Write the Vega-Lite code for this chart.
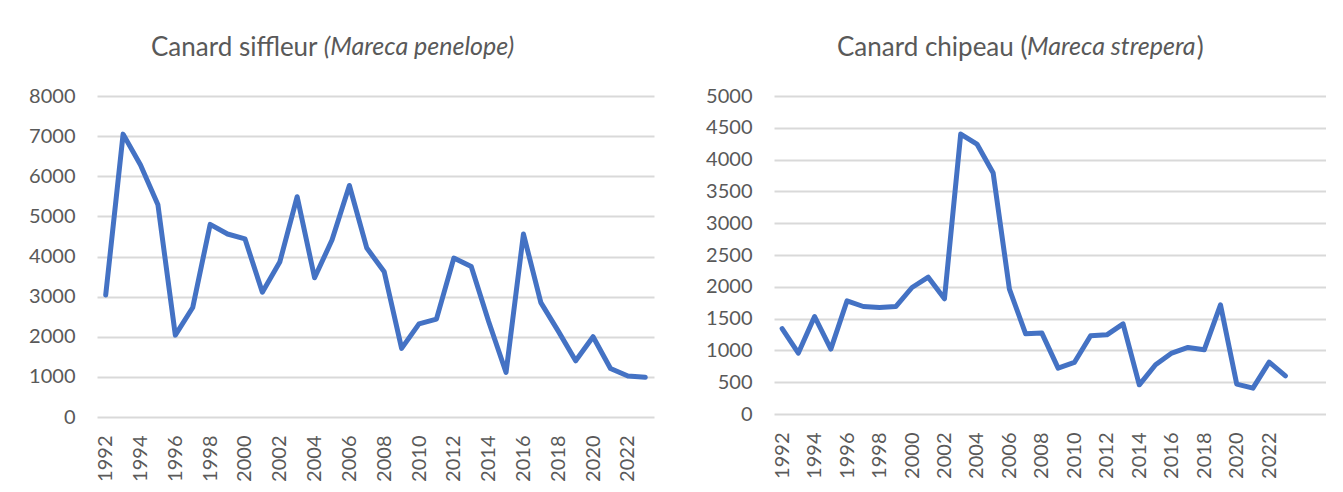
{
  "$schema": "https://vega.github.io/schema/vega-lite/v6.json",
  "background": "white",
  "padding": {"left": 28, "top": 35, "right": 0, "bottom": 0},
  "bounds": "flush",
  "spacing": 120,
  "datasets": {
    "siffleur": [
      {"year": 1992, "count": 3040}, {"year": 1993, "count": 7050}, {"year": 1994, "count": 6280}, {"year": 1995, "count": 5290},
      {"year": 1996, "count": 2040}, {"year": 1997, "count": 2730}, {"year": 1998, "count": 4800}, {"year": 1999, "count": 4560},
      {"year": 2000, "count": 4440}, {"year": 2001, "count": 3110}, {"year": 2002, "count": 3860}, {"year": 2003, "count": 5490},
      {"year": 2004, "count": 3470}, {"year": 2005, "count": 4410}, {"year": 2006, "count": 5770}, {"year": 2007, "count": 4210},
      {"year": 2008, "count": 3620}, {"year": 2009, "count": 1710}, {"year": 2010, "count": 2320}, {"year": 2011, "count": 2440},
      {"year": 2012, "count": 3960}, {"year": 2013, "count": 3750}, {"year": 2014, "count": 2380}, {"year": 2015, "count": 1110},
      {"year": 2016, "count": 4560}, {"year": 2017, "count": 2850}, {"year": 2018, "count": 2140}, {"year": 2019, "count": 1400},
      {"year": 2020, "count": 2000}, {"year": 2021, "count": 1210}, {"year": 2022, "count": 1020}, {"year": 2023, "count": 990}
    ],
    "chipeau": [
      {"year": 1992, "count": 1344}, {"year": 1993, "count": 958}, {"year": 1994, "count": 1533}, {"year": 1995, "count": 1020},
      {"year": 1996, "count": 1780}, {"year": 1997, "count": 1690}, {"year": 1998, "count": 1675}, {"year": 1999, "count": 1690},
      {"year": 2000, "count": 1989}, {"year": 2001, "count": 2152}, {"year": 2002, "count": 1811}, {"year": 2003, "count": 4401},
      {"year": 2004, "count": 4244}, {"year": 2005, "count": 3788}, {"year": 2006, "count": 1964}, {"year": 2007, "count": 1261},
      {"year": 2008, "count": 1272}, {"year": 2009, "count": 722}, {"year": 2010, "count": 810}, {"year": 2011, "count": 1230},
      {"year": 2012, "count": 1245}, {"year": 2013, "count": 1418}, {"year": 2014, "count": 459}, {"year": 2015, "count": 774},
      {"year": 2016, "count": 958}, {"year": 2017, "count": 1046}, {"year": 2018, "count": 1009}, {"year": 2019, "count": 1717},
      {"year": 2020, "count": 470}, {"year": 2021, "count": 407}, {"year": 2022, "count": 816}, {"year": 2023, "count": 600}
    ]
  },
  "config": {
    "view": {"stroke": null},
    "font": "Lato",
    "axis": {
      "labelFont": "Lato",
      "labelFontSize": 20,
      "labelColor": "#595959",
      "domain": false,
      "ticks": false,
      "title": null,
      "gridColor": "#d9d9d9",
      "gridWidth": 2
    },
    "title": {
      "font": "Lato",
      "fontSize": 26,
      "fontWeight": "normal",
      "color": "#595959",
      "subtitleFont": "Lato",
      "subtitleFontSize": 25,
      "subtitleFontStyle": "italic",
      "subtitleColor": "#595959",
      "subtitlePadding": -26,
      "anchor": "start",
      "frame": "group",
      "offset": 25
    }
  },
  "hconcat": [
    {
      "width": 557,
      "height": 321,
      "data": {"name": "siffleur"},
      "title": {
        "text": "Canard siffleur",
        "subtitle": "\u200b\u2003\u2003\u2003\u2003\u2003\u2003\u2003\u2003\u2003\u00a0\u00a0\u00a0(Mareca penelope)",
        "dx": 54
      },
      "mark": {"type": "line", "color": "#4472C4", "strokeWidth": 5, "strokeCap": "round", "strokeJoin": "round"},
      "encoding": {
        "x": {
          "field": "year", "type": "quantitative",
          "scale": {"domain": [1991.5, 2023.5], "nice": false, "zero": false},
          "axis": {"values": [1992, 1994, 1996, 1998, 2000, 2002, 2004, 2006, 2008, 2010, 2012, 2014, 2016, 2018, 2020, 2022], "format": "d", "labelAngle": -90, "grid": false, "labelPadding": 18}
        },
        "y": {
          "field": "count", "type": "quantitative",
          "scale": {"domain": [0, 8000], "nice": false},
          "axis": {"values": [0, 1000, 2000, 3000, 4000, 5000, 6000, 7000, 8000], "format": "d", "labelPadding": 22}
        }
      }
    },
    {
      "width": 552,
      "height": 318,
      "data": {"name": "chipeau"},
      "title": {
        "text": "Canard chipeau (\u2003\u2003\u2003\u2003\u2003\u2003\u2003\u2003\u00a0\u00a0)",
        "subtitle": "\u200b\u2003\u2003\u2003\u2003\u2003\u2003\u2003\u2003\u2003\u2003\u00a0\u00a0\u00a0Mareca strepera",
        "dx": 63
      },
      "mark": {"type": "line", "color": "#4472C4", "strokeWidth": 5, "strokeCap": "round", "strokeJoin": "round"},
      "encoding": {
        "x": {
          "field": "year", "type": "quantitative",
          "scale": {"domain": [1991.5, 2025.5], "nice": false, "zero": false},
          "axis": {"values": [1992, 1994, 1996, 1998, 2000, 2002, 2004, 2006, 2008, 2010, 2012, 2014, 2016, 2018, 2020, 2022], "format": "d", "labelAngle": -90, "grid": false, "labelPadding": 18}
        },
        "y": {
          "field": "count", "type": "quantitative",
          "scale": {"domain": [0, 5000], "nice": false},
          "axis": {"values": [0, 500, 1000, 1500, 2000, 2500, 3000, 3500, 4000, 4500, 5000], "format": "d", "labelPadding": 22}
        }
      }
    }
  ]
}
